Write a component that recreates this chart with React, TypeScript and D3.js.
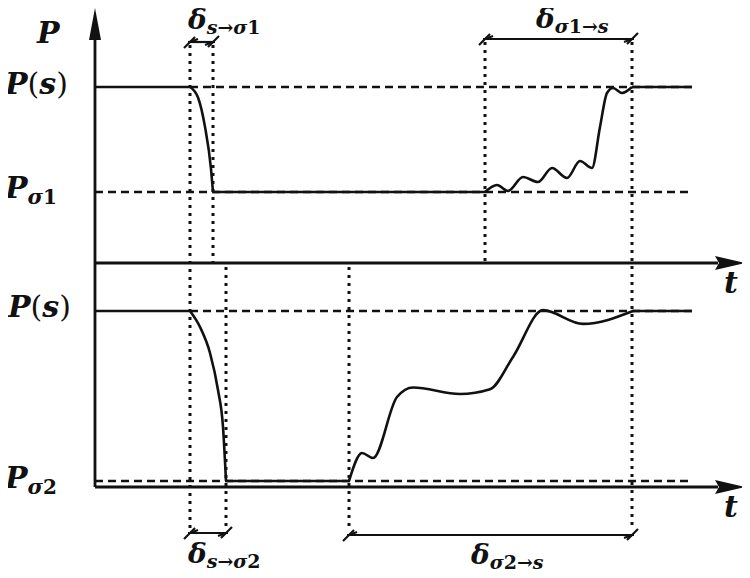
import React from 'react'
import * as d3 from 'd3'

// time axis: t runs from the P axis (0) to the arrow tip (650)
// P is normalised per panel: 1 = P(s), 0 = P_sigma
const topDrop: [number, number][] = [
  [95, 1], [103, 0.9], [110, 0.62], [116, 0.22], [118, 0],
]
const topRecover: [number, number][] = [
  [390, 0], [402, 0.067], [413, 0.01], [428, 0.143], [443, 0.095],
  [457, 0.229], [472, 0.133], [485, 0.295], [497, 0.229], [505, 0.62],
  [512, 0.943], [518, 0.99], [527, 0.943], [537, 1],
]
const botDrop: [number, number][] = [
  [95, 1], [105, 0.906], [115, 0.753], [123, 0.535], [128, 0.318], [131, 0],
]
const botRecover: [number, number][] = [
  [254, 0], [267, 0.165], [278, 0.135], [302, 0.494], [318, 0.55],
  [365, 0.512], [395, 0.54], [418, 0.73], [448, 1.005], [488, 0.924], [538, 1],
]

// key instants
const tTopStart = 95
const tTopEnd = 118
const tTopRecStart = 390
const tTopRecEnd = 537
const tBotEnd = 131
const tBotRecStart = 254
const tLineEnd = 597

const W = 750
const H = 578
const axisX = 95
const midAxisY = 263
const botAxisY = 487
const stroke = '#111'
const font = '"DejaVu Serif", "Liberation Serif", serif'

const xScale = d3.scaleLinear().domain([0, 650]).range([axisX, 745])
const yTop = d3.scaleLinear().domain([0, 1]).range([192, 87])
const yBot = d3.scaleLinear().domain([0, 1]).range([481, 311])

const lineTop = d3.line<[number, number]>()
  .x(d => xScale(d[0])).y(d => yTop(d[1])).curve(d3.curveMonotoneX)
const lineBot = d3.line<[number, number]>()
  .x(d => xScale(d[0])).y(d => yBot(d[1])).curve(d3.curveMonotoneX)

const solid = { stroke, strokeWidth: 2.6, fill: 'none' }
const dashed = { stroke, strokeWidth: 2.6, strokeDasharray: '8,5', fill: 'none' }
const dotted = { stroke, strokeWidth: 3, strokeDasharray: '3,5', fill: 'none' }

function HLine(props: { t1: number, t2: number, y: number, style: any }) {
  return <line x1={xScale(props.t1)} x2={xScale(props.t2)} y1={props.y} y2={props.y} {...props.style} />
}

function VDot(props: { t: number, y1: number, y2: number }) {
  const x = xScale(props.t)
  return <line x1={x} x2={x} y1={props.y1} y2={props.y2} {...dotted} />
}

// dimension line with slashed ends
function Dim(props: { t1: number, t2: number, y: number }) {
  const a = xScale(props.t1)
  const b = xScale(props.t2)
  const y = props.y
  return (
    <g stroke={stroke} strokeWidth={2.2} fill='none'>
      <line x1={a - 2} x2={b + 2} y1={y} y2={y} />
      <line x1={a - 6} y1={y + 6} x2={a + 5} y2={y - 5} />
      <line x1={b - 5} y1={y + 5} x2={b + 6} y2={y - 6} />
      <line x1={a} y1={y} x2={a + 8} y2={y - 3} />
      <line x1={b} y1={y} x2={b - 8} y2={y + 3} />
    </g>
  )
}

const it = { fontStyle: 'italic', fontWeight: 'bold' } as const
const up = { fontStyle: 'normal', fontWeight: 'bold' } as const

function PLevel(props: { x: number, y: number }) {
  return (
    <text x={props.x} y={props.y} fontFamily={font} fontSize={30} fill={stroke}>
      <tspan {...it}>P</tspan>
      <tspan fontStyle='normal' fontWeight='normal'>(</tspan>
      <tspan {...it}>s</tspan>
      <tspan fontStyle='normal' fontWeight='normal'>)</tspan>
    </text>
  )
}

function PSigma(props: { x: number, y: number, n: string }) {
  return (
    <text x={props.x} y={props.y} fontFamily={font} fontSize={30} fill={stroke}>
      <tspan {...it}>P</tspan>
      <tspan {...it} fontSize={21} dy={6}>σ</tspan>
      <tspan {...up} fontSize={20}>{props.n}</tspan>
    </text>
  )
}

// sub: list of [text, italic]
function Delta(props: { x: number, y: number, sub: [string, boolean][] }) {
  return (
    <text x={props.x} y={props.y} fontFamily={font} fontSize={28} fill={stroke}>
      <tspan {...it}>δ</tspan>
      {props.sub.map((s, i) => (
        <tspan key={i} {...(s[1] ? it : up)} fontSize={19} dy={i === 0 ? 5 : 0}>{s[0]}</tspan>
      ))}
    </text>
  )
}

export default function App() {
  return (
    <svg width={W} height={H} style={{ display: 'block', margin: -8, background: '#fff' }}>
      {/* reference levels */}
      <HLine t1={0} t2={tTopStart} y={yTop(1)} style={solid} />
      <HLine t1={tTopStart} t2={tLineEnd} y={yTop(1)} style={dashed} />
      <HLine t1={tTopRecEnd} t2={tLineEnd} y={yTop(1)} style={solid} />
      <HLine t1={0} t2={tLineEnd} y={yTop(0)} style={dashed} />
      <HLine t1={tTopEnd} t2={tTopRecStart} y={yTop(0)} style={solid} />

      <HLine t1={0} t2={tTopStart} y={yBot(1)} style={solid} />
      <HLine t1={tTopStart} t2={tLineEnd} y={yBot(1)} style={dashed} />
      <HLine t1={538} t2={tLineEnd} y={yBot(1)} style={solid} />
      <HLine t1={0} t2={tLineEnd} y={yBot(0)} style={dashed} />
      <HLine t1={tBotEnd} t2={tBotRecStart} y={yBot(0)} style={solid} />

      {/* curves */}
      <path d={lineTop(topDrop) || ''} {...solid} />
      <path d={lineTop(topRecover) || ''} {...solid} />
      <path d={lineBot(botDrop) || ''} {...solid} />
      <path d={lineBot(botRecover) || ''} {...solid} />

      {/* dotted guides */}
      <VDot t={tTopStart} y1={45} y2={530} />
      <VDot t={tTopEnd} y1={45} y2={263} />
      <VDot t={tTopRecStart} y1={42} y2={262} />
      <VDot t={tTopRecEnd} y1={42} y2={530} />
      <VDot t={tBotEnd} y1={267} y2={530} />
      <VDot t={tBotRecStart} y1={267} y2={530} />

      {/* axes */}
      <g stroke={stroke} strokeWidth={2.8}>
        <line x1={axisX} x2={axisX} y1={38} y2={botAxisY} />
        <line x1={axisX} x2={718} y1={midAxisY} y2={midAxisY} />
        <line x1={axisX} x2={718} y1={botAxisY} y2={botAxisY} />
      </g>
      <path d={`M${axisX - 6},40 L${axisX},8 L${axisX + 6},40 Z`} fill={stroke} />
      <path d={`M715,${midAxisY - 7} L745,${midAxisY} L715,${midAxisY + 7} L719,${midAxisY} Z`} fill={stroke} />
      <path d={`M715,${botAxisY - 7} L745,${botAxisY} L715,${botAxisY + 7} L719,${botAxisY} Z`} fill={stroke} />

      {/* dimension lines */}
      <Dim t1={tTopStart} t2={tTopEnd} y={42} />
      <Dim t1={tTopRecStart} t2={tTopRecEnd} y={39} />
      <Dim t1={tTopStart} t2={tBotEnd} y={533} />
      <Dim t1={tBotRecStart} t2={tTopRecEnd} y={535} />

      {/* labels */}
      <text x={37} y={43} fontFamily={font} fontSize={30} fill={stroke} {...it}>P</text>
      <PLevel x={5} y={94} />
      <PSigma x={5} y={198} n='1' />
      <PLevel x={8} y={317} />
      <PSigma x={5} y={488} n='2' />
      <text x={724} y={293} fontFamily={font} fontSize={30} fill={stroke} {...it}>t</text>
      <text x={724} y={517} fontFamily={font} fontSize={30} fill={stroke} {...it}>t</text>

      <Delta x={188} y={29} sub={[['s', true], ['→', false], ['σ', true], ['1', false]]} />
      <Delta x={536} y={28} sub={[['σ', true], ['1', false], ['→', false], ['s', true]]} />
      <Delta x={188} y={563} sub={[['s', true], ['→', false], ['σ', true], ['2', false]]} />
      <Delta x={471} y={564} sub={[['σ', true], ['2', false], ['→', false], ['s', true]]} />
    </svg>
  )
}
